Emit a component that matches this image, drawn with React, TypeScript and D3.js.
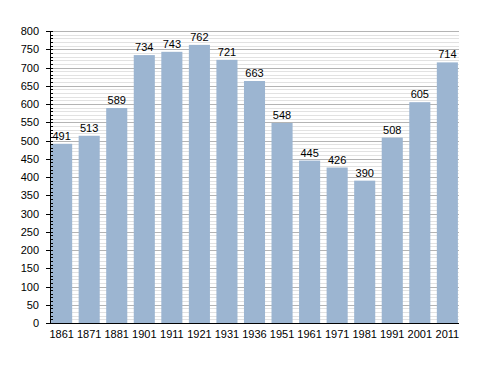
import React from "react";
import * as d3 from "d3";

// census years and population counts
const years = ["1861", "1871", "1881", "1901", "1911", "1921", "1931", "1936", "1951", "1961", "1971", "1981", "1991", "2001", "2011"];
const population = [491, 513, 589, 734, 743, 762, 721, 663, 548, 445, 426, 390, 508, 605, 714];
const yMajorTicks = [0, 50, 100, 150, 200, 250, 300, 350, 400, 450, 500, 550, 600, 650, 700, 750, 800];

const width = 488;
const height = 373;
const margin = { top: 31, right: 29, bottom: 50, left: 50 };

export default function App() {
  const x = d3
    .scaleBand()
    .domain(years)
    .range([margin.left, width - margin.right])
    .paddingInner(0.235)
    .paddingOuter(0.04);

  const y = d3
    .scaleLinear()
    .domain([0, 800])
    .range([height - margin.bottom, margin.top]);

  const minorTicks = d3.range(0, 801, 10).filter((v) => v % 50 !== 0);
  const font = "'Liberation Sans', Arial, sans-serif";
  const x0 = margin.left;
  const x1 = width - margin.right;

  return (
    <svg
      width={width}
      height={height}
      style={{ position: "absolute", left: 0, top: 0, background: "#fff" }}
      fontFamily={font}
    >
      {/* minor grid */}
      {minorTicks.map((v) => (
        <line key={"m" + v} x1={x0} x2={x1} y1={Math.round(y(v)) + 0.5} y2={Math.round(y(v)) + 0.5} stroke="#e2e2e2" />
      ))}
      {/* major grid */}
      {yMajorTicks.map((v) => (
        <line key={"g" + v} x1={x0} x2={x1} y1={Math.round(y(v)) + 0.5} y2={Math.round(y(v)) + 0.5} stroke="#b4b4b4" />
      ))}

      {/* bars */}
      {years.map((yr, i) => (
        <rect
          key={yr}
          x={x(yr)}
          y={y(population[i])}
          width={x.bandwidth()}
          height={y(0) - y(population[i])}
          fill="#9cb5d1"
        />
      ))}

      {/* value labels */}
      {years.map((yr, i) => (
        <text
          key={"l" + yr}
          x={(x(yr) as number) + x.bandwidth() / 2}
          y={y(population[i]) - 4}
          textAnchor="middle"
          fontSize={11}
          fill="#000"
        >
          {population[i]}
        </text>
      ))}

      {/* y axis */}
      <line x1={x0 + 0.5} x2={x0 + 0.5} y1={y(800)} y2={y(0)} stroke="#000" />
      {minorTicks.map((v) => (
        <line key={"mt" + v} x1={x0} x2={x0 + 3} y1={Math.round(y(v)) + 0.5} y2={Math.round(y(v)) + 0.5} stroke="#000" />
      ))}
      {yMajorTicks.map((v) => (
        <g key={"t" + v}>
          <line x1={x0 - 4} x2={x0 + 3} y1={Math.round(y(v)) + 0.5} y2={Math.round(y(v)) + 0.5} stroke="#000" />
          <text x={x0 - 11} y={y(v) + 4} textAnchor="end" fontSize={11} fill="#000">
            {v}
          </text>
        </g>
      ))}

      {/* x axis */}
      <line x1={x0} x2={x1} y1={Math.round(y(0)) + 0.5} y2={Math.round(y(0)) + 0.5} stroke="#000" />
      {years.map((yr) => (
        <text
          key={"x" + yr}
          x={(x(yr) as number) + x.bandwidth() / 2}
          y={y(0) + 15}
          textAnchor="middle"
          fontSize={11}
          fill="#000"
        >
          {yr}
        </text>
      ))}
    </svg>
  );
}
